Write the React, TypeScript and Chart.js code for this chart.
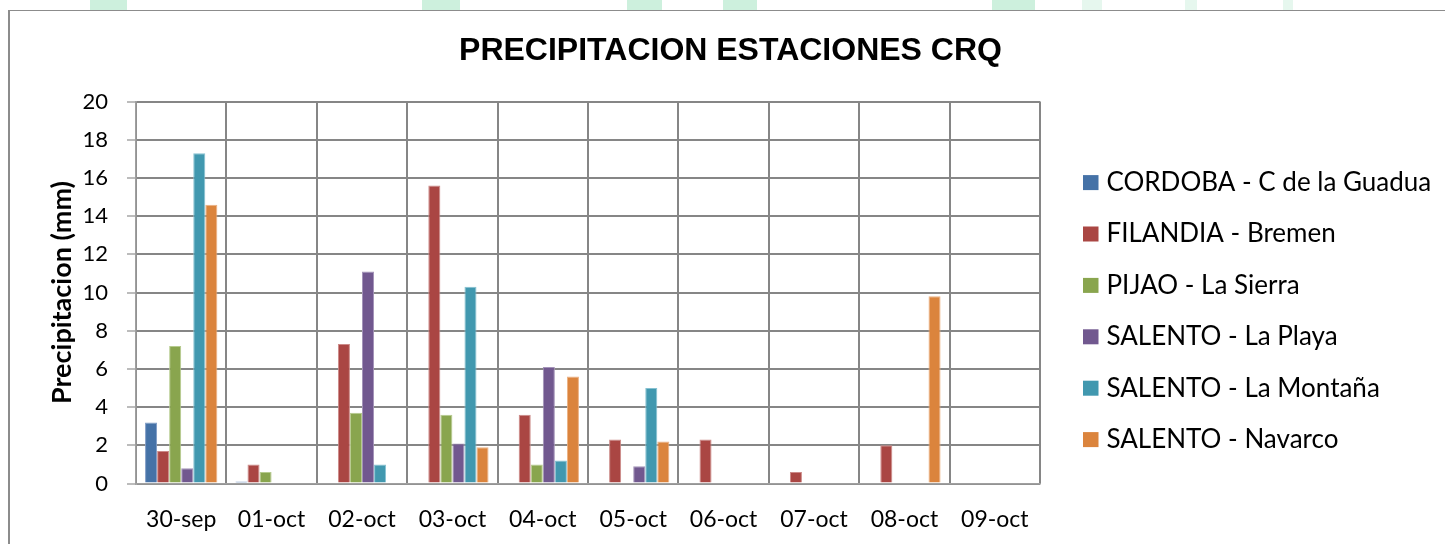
import React, { useEffect, useRef } from 'react';
import { Chart, registerables } from 'chart.js';

Chart.register(...registerables);

// ---- data ----
const categories = ['30-sep', '01-oct', '02-oct', '03-oct', '04-oct', '05-oct', '06-oct', '07-oct', '08-oct', '09-oct'];
const seriesNames = [
  'CORDOBA - C de la Guadua',
  'FILANDIA - Bremen',
  'PIJAO - La Sierra',
  'SALENTO - La Playa',
  'SALENTO - La Montaña',
  'SALENTO - Navarco',
];
const cordobaGuadua = [3.2, 0.1, null, null, null, null, null, null, null, null];
const filandiaBremen = [1.7, 1.0, 7.3, 15.6, 3.6, 2.3, 2.3, 0.6, 2.0, null];
const pijaoSierra = [7.2, 0.6, 3.7, 3.6, 1.0, null, null, null, null, null];
const salentoPlaya = [0.8, null, 11.1, 2.1, 6.1, 0.9, null, null, null, null];
const salentoMontana = [17.3, null, 1.0, 10.3, 1.2, 5.0, null, null, null, null];
const salentoNavarco = [14.6, null, null, 1.9, 5.6, 2.2, null, null, 9.8, null];
const seriesValues = [cordobaGuadua, filandiaBremen, pijaoSierra, salentoPlaya, salentoMontana, salentoNavarco];
const seriesColors = ['#4572A7', '#AA4643', '#89A54E', '#71588F', '#4198AF', '#DB843D'];
const seriesEdges = ['#7f9cc6', '#cc8a88', '#b6cb8e', '#a393b8', '#86c1d1', '#ecb183'];
const yMin = 0;
const yMax = 20;
const yStep = 2;
const chartTitle = 'PRECIPITACION ESTACIONES CRQ';
const yAxisTitle = 'Precipitacion (mm)';

const sideLegend = {
  id: 'sideLegend',
  afterDraw(chart: any) {
    const { ctx, chartArea } = chart;
    const x0 = chartArea.right + 43;
    const y0 = chartArea.top + 81;
    ctx.save();
    ctx.font = '26px Lato';
    ctx.textBaseline = 'middle';
    ctx.textAlign = 'left';
    chart.data.datasets.forEach((ds: any, i: number) => {
      const cy = y0 + i * 51.4;
      ctx.fillStyle = ds.backgroundColor;
      ctx.fillRect(x0, cy - 7.5, 15.5, 15);
      ctx.fillStyle = '#000000';
      ctx.fillText(ds.label, x0 + 23.5, cy);
    });
    ctx.restore();
  },
};

export default function App() {
  const canvasRef = useRef<HTMLCanvasElement | null>(null);

  useEffect(() => {
    let chart: Chart | null = null;
    let cancelled = false;
    const build = () => {
      if (cancelled || !canvasRef.current) return;
      chart = new Chart(canvasRef.current, {
        type: 'bar',
        data: {
          labels: categories,
          datasets: seriesNames.map((name, i) => ({
            label: name,
            data: seriesValues[i],
            backgroundColor: seriesColors[i],
            borderColor: seriesEdges[i],
            borderWidth: 1,
            categoryPercentage: 0.8,
            barPercentage: 1.0,
          })),
        },
        options: {
          responsive: false,
          animation: false,
          events: [],
          layout: { padding: { left: 36.8, right: 36.8, top: 0, bottom: 0 } },
          plugins: {
            legend: { display: false },
            tooltip: { enabled: false },
            title: {
              display: true,
              text: chartTitle,
              color: '#000000',
              font: { family: '"Liberation Sans", Arial, sans-serif', size: 32, weight: 'bold' },
              padding: { top: 21.8, bottom: 31.4 },
            },
          },
          scales: {
            x: {
              offset: true,
              grid: { color: '#868686', lineWidth: 2, offset: true, drawTicks: false },
              border: { color: '#a0a0a0', width: 1.5 },
              ticks: { color: '#000000', font: { family: 'Lato', size: 23 }, padding: 22, maxRotation: 0 },
              afterFit: (s: any) => { s.height = 70.5; },
            },
            y: {
              min: yMin,
              max: yMax,
              ticks: { stepSize: yStep, color: '#000000', font: { family: 'Lato', size: 22 }, padding: 19 },
              grid: { color: '#868686', lineWidth: 2, tickLength: 9, tickColor: '#a6a6a6', tickWidth: 1.5 },
              border: { color: '#a0a0a0', width: 1.5 },
              title: {
                display: true,
                text: yAxisTitle,
                color: '#000000',
                font: { family: 'Lato', size: 27, weight: 'bold' },
                padding: 0,
              },
              afterFit: (s: any) => { s.width = 90.2; },
            },
            spacer: {
              type: 'linear',
              position: 'right',
              display: true,
              grid: { display: false },
              border: { display: false },
              ticks: { display: false },
              afterFit: (s: any) => { s.width = 375.2; },
            },
          },
        },
        plugins: [sideLegend],
      } as any);
    };
    if ((document as any).fonts && (document as any).fonts.load) {
      Promise.all([
        (document as any).fonts.load('26px Lato'),
        (document as any).fonts.load('bold 27px Lato'),
        (document as any).fonts.load('bold 32px "Liberation Sans"'),
      ]).then(build, build);
    } else {
      build();
    }
    return () => {
      cancelled = true;
      if (chart) chart.destroy();
    };
  }, []);

  const mint = '#cdf0dd';
  const blocks = [
    [90, 37], [422, 38], [627, 35], [723, 34], [992, 43], [1082, 20], [1185, 12], [1283, 10],
  ];

  return (
    <div style={{ position: 'fixed', left: 0, top: 0, width: 1445, height: 544, overflow: 'hidden', background: '#ffffff' }}>
      {blocks.map(([x, w], i) => (
        <div key={i} style={{ position: 'absolute', left: x, top: 0, width: w, height: 10, background: mint, opacity: i > 4 ? 0.5 : 1 }} />
      ))}
      <div style={{ position: 'absolute', left: 8, top: 10, width: 2000, height: 2000, borderLeft: '2px solid #8c8c8c', borderTop: '1.5px solid #8c8c8c', boxSizing: 'border-box' }} />
      <canvas ref={canvasRef} width={1443} height={544} style={{ position: 'absolute', left: 9, top: 10, width: 1443, height: 544 }} />
    </div>
  );
}
